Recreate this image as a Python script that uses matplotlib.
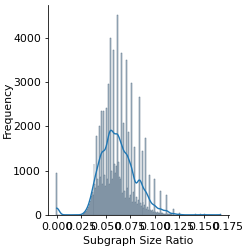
import numpy as np
import matplotlib
matplotlib.use('Agg')
import matplotlib.pyplot as plt
import seaborn as sns

# tall spikes (ratio value -> count)
spike_ratio = [0.000, 0.038, 0.041, 0.044, 0.046, 0.048, 0.051, 0.053, 0.055, 0.058,
               0.062, 0.066, 0.068, 0.071, 0.073, 0.076, 0.079, 0.084, 0.087, 0.091,
               0.095, 0.100, 0.106, 0.112, 0.119, 0.125, 0.142, 0.147, 0.151, 0.167]
spike_count = [950, 1150, 1780, 2000, 2350, 2350, 2420, 2960, 4000, 3720,
               4520, 3650, 2080, 3500, 1870, 2990, 1540, 2670, 1445, 1730,
               900, 805, 550, 450, 135, 50, 12, 15, 10, 12]

# low bars in between the spikes
base_ratio = [0.027, 0.028, 0.029, 0.030, 0.031, 0.032, 0.033, 0.034, 0.035, 0.036,
              0.037, 0.039, 0.040, 0.042, 0.043, 0.045, 0.047, 0.049, 0.050, 0.052,
              0.054, 0.056, 0.057, 0.059, 0.060, 0.061, 0.063, 0.064, 0.065, 0.067,
              0.069, 0.070, 0.072, 0.074, 0.075, 0.077, 0.078, 0.080, 0.081, 0.082,
              0.083, 0.085, 0.086, 0.088, 0.089, 0.090, 0.092, 0.093, 0.094, 0.096,
              0.097, 0.098, 0.099, 0.101, 0.102, 0.103, 0.104, 0.105, 0.107, 0.108,
              0.109, 0.110, 0.111, 0.113, 0.114, 0.115, 0.116, 0.117, 0.118, 0.120,
              0.122]
base_count = [20, 40, 60, 90, 130, 180, 240, 320, 420, 520,
              450, 700, 600, 800, 650, 850, 700, 900, 650, 800,
              700, 1000, 800, 1150, 950, 1100, 1200, 850, 800, 500,
              550, 380, 600, 380, 450, 300, 520, 280, 400, 250,
              330, 260, 200, 300, 150, 220, 130, 180, 100, 120,
              80, 110, 60, 70, 50, 60, 40, 50, 35, 40,
              25, 30, 20, 20, 15, 15, 10, 10, 8, 6,
              5]

ratios = np.repeat(spike_ratio + base_ratio, spike_count + base_count)
edges = np.arange(-0.0005, 0.1680, 0.001)

plt.rcParams['font.size'] = 11
fig = plt.figure(figsize=(3.5, 3.5), dpi=71.15)
ax = fig.add_axes([0.193, 0.137, 0.727, 0.843])
sns.histplot(x=ratios, bins=edges, kde=True, ax=ax,
             facecolor='#bccdda', edgecolor='#5d7386', linewidth=0.5, alpha=1,
             line_kws={'linewidth': 1.4},
             kde_kws={'bw_adjust': 1.3})
ax.lines[0].set_color('#1f77b4')
ax.spines['top'].set_visible(False)
ax.spines['right'].set_visible(False)
ax.set_xticks([0.0, 0.025, 0.05, 0.075, 0.1, 0.125, 0.15, 0.175])
ax.set_xticklabels(['0.000', '0.025', '0.050', '0.075', '0.100', '0.125', '0.150', '0.175'])
ax.set_yticks([0, 1000, 2000, 3000, 4000])
ax.set_xlabel('Subgraph Size Ratio')
ax.set_ylabel('Frequency', labelpad=0)
fig.savefig('out.png', dpi=71.15)
